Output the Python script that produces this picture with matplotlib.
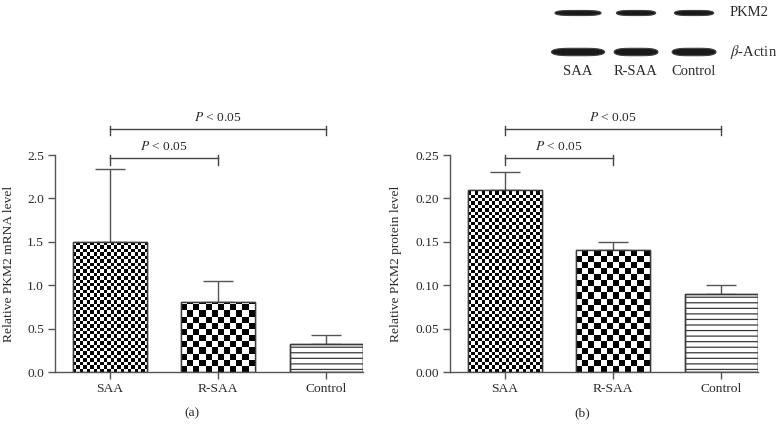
import numpy as np
import matplotlib
matplotlib.use("Agg")
import matplotlib.pyplot as plt

plt.rcParams['font.family'] = ['Liberation Serif', 'DejaVu Serif']
plt.rcParams['mathtext.fontset'] = 'stix'
plt.rcParams['hatch.linewidth'] = 0.9

categories = ['SAA', 'R-SAA', 'Control']
mrna_mean = [1.50, 0.81, 0.32]
mrna_err = [0.84, 0.24, 0.11]
prot_mean = [0.21, 0.14, 0.09]
prot_err = [0.02, 0.01, 0.01]
mrna_ticks = [0.0, 0.5, 1.0, 1.5, 2.0, 2.5]
prot_ticks = [0.00, 0.05, 0.10, 0.15, 0.20, 0.25]
sig_label = '$P$ < 0.05'

blot_lanes = ['SAA', 'R-SAA', 'Control']
blot_rows = ['PKM2', r'$\beta$-Actin']
blot_band_width = [[0.80, 0.68, 0.68], [0.92, 0.76, 0.76]]
blot_band_thick = [0.13, 0.19]

W, H = 784, 440
fig = plt.figure(figsize=(W / 100, H / 100), dpi=100)

INK = '#2a2a2a'
EDGE = '#3a3a3a'


def px_rect(x0, x1, y_top, y_bot):
    return [x0 / W, 1 - y_bot / H, (x1 - x0) / W, (y_bot - y_top) / H]


def checker(ax, bar, cell_px):
    x0 = bar.get_x()
    w = bar.get_width()
    h = bar.get_height()
    t = ax.transData
    p0 = t.transform((x0, 0))
    p1 = t.transform((x0 + w, h))
    wpx, hpx = p1[0] - p0[0], p1[1] - p0[1]
    nx = int(np.ceil(wpx / cell_px)) + 1
    ny = int(np.ceil(hpx / cell_px)) + 1
    dx = w * cell_px / wpx
    dy = h * cell_px / hpx
    ii, jj = np.indices((ny, nx))
    arr = ((ii + jj) % 2).astype(float)
    im = ax.imshow(arr, cmap='gray', vmin=0, vmax=1, origin='lower',
                   extent=(x0, x0 + nx * dx, 0, ny * dy), aspect='auto',
                   interpolation='nearest', zorder=2)
    im.set_clip_path(bar)


def panel(rect, means, errs, ticks, fmt, ylabel, label_x, caption, cap_x, top):
    ax = fig.add_axes(rect)
    x = np.arange(len(categories))
    bars = ax.bar(x, means, width=0.68, facecolor='white', edgecolor=EDGE,
                  linewidth=1.0, zorder=1)
    ax.set_xlim(-0.51, 2.34)
    ax.set_ylim(0, top)
    checker(ax, bars[0], 3.4)
    checker(ax, bars[1], 6.1)
    bars[2].set_hatch('---')
    for b in bars:
        ax.add_patch(plt.Rectangle((b.get_x(), 0), b.get_width(), b.get_height(),
                                   facecolor='none', edgecolor=EDGE, lw=1.0, zorder=3))
    ax.errorbar(x, means, yerr=[np.zeros(len(errs)), errs], fmt='none',
                ecolor='#555555', elinewidth=1.0, capsize=11, capthick=1.0, zorder=0)
    ax.set_xticks(x)
    ax.set_xticklabels(categories, fontsize=9.7, color=INK)
    ax.set_yticks(ticks)
    ax.set_yticklabels([fmt.format(v) for v in ticks], fontsize=9.7, color=INK)
    ax.tick_params(direction='out', length=5, width=1.0, color='#555555', pad=3)
    for s in ['top', 'right']:
        ax.spines[s].set_visible(False)
    for s in ['left', 'bottom']:
        ax.spines[s].set_color('#555555')
        ax.spines[s].set_linewidth(1.0)
    ax.set_ylabel(ylabel, fontsize=9.7, color=INK)
    ax.yaxis.set_label_coords(label_x, 0.5)
    # significance brackets
    for (a, b), yb in [((0, 2), 1.12), ((0, 1), 0.986)]:
        y = yb * top
        kw = dict(color='#444444', lw=1.0, clip_on=False)
        ax.plot([a, b], [y, y], **kw)
        for xx in (a, b):
            ax.plot([xx, xx], [y + 0.012 * top, y - 0.03 * top], **kw)
        ax.text((a + b) / 2, y + 0.025 * top, sig_label, ha='center', va='bottom',
                fontsize=9.7, color=INK, clip_on=False)
    ax.text(cap_x, -0.19, caption, transform=ax.transAxes, ha='center', va='center',
            fontsize=9.7, color=INK)
    return ax


panel(px_rect(55, 363, 155, 372), mrna_mean, mrna_err, mrna_ticks, '{:.1f}',
      'Relative PKM2 mRNA level', -0.13, '(a)', 0.445, 2.5)
panel(px_rect(450, 758, 155, 372), prot_mean, prot_err, prot_ticks, '{:.2f}',
      'Relative PKM2 protein level', -0.157, '(b)', 0.43, 0.25)

# western blot inset
bax = fig.add_axes(px_rect(549, 784, 0, 85))
bax.set_xlim(-0.5, 3.55)
bax.set_ylim(1.846, -0.333)
bax.axis('off')
for r, row in enumerate(blot_rows):
    for l in range(len(blot_lanes)):
        hw = blot_band_width[r][l] / 2
        t = np.linspace(-1, 1, 60)
        half = blot_band_thick[r] / 2 * np.sqrt(np.clip(1 - t ** 4, 0, 1))
        xs = np.concatenate([l + hw * t, (l + hw * t)[::-1]])
        ys = np.concatenate([r + half, (r - half)[::-1]])
        bax.fill(xs, ys, color='#1a1a1a', lw=0.8, ec='#444444')
    bax.text(2.62, r, row, ha='left', va='center', fontsize=10.5, color=INK)
for l, lane in enumerate(blot_lanes):
    bax.text(l, 1.51, lane, ha='center', va='center', fontsize=10.5, color=INK)

fig.savefig('out.png', dpi=100)
